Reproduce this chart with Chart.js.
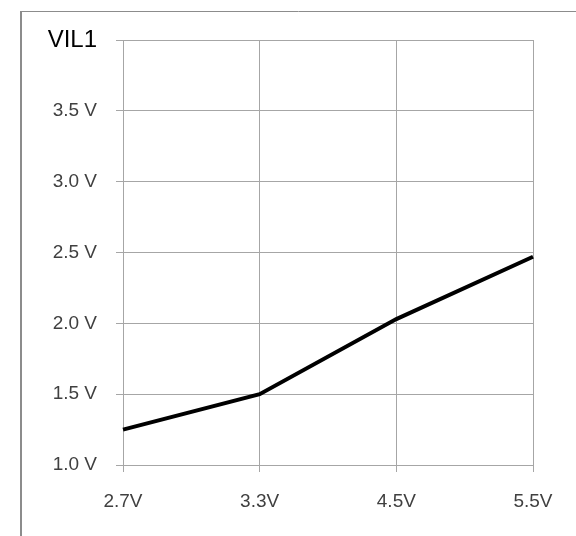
<!DOCTYPE html>
<html>
<head>
<meta charset="utf-8">
<script src="https://cdn.jsdelivr.net/npm/chart.js@4/dist/chart.umd.min.js"></script>
<style>
    html, body { margin: 0; padding: 0; background: #fff; }
    #wrap { width: 576px; height: 536px; position: relative; }
</style>
</head>
<body>
<div id="wrap"><canvas id="vilChart" width="576" height="536"></canvas></div>
<script>
    const supplyLabels = ['2.7V', '3.3V', '4.5V', '5.5V'];
    const vilValues = [1.25, 1.5, 2.03, 2.47];
    const axisTitle = 'VIL1';
    const yMin = 1.0;
    const yMax = 4.0;
    const yStep = 0.5;

    const GRID_COLOR = '#a6a6a6';
    const FONT_FAMILY = '"Liberation Sans", Arial, sans-serif';

    // light frame around the whole picture (left and top edges only)
    const outerFrame = {
        id: 'outerFrame',
        beforeDraw(chart) {
            const ctx = chart.ctx;
            ctx.save();
            ctx.strokeStyle = '#8c8c8c';
            ctx.lineWidth = 2;
            ctx.beginPath();
            ctx.moveTo(21, 536);
            ctx.lineTo(21, 11);
            ctx.stroke();
            ctx.lineWidth = 1;
            ctx.beginPath();
            ctx.moveTo(21, 11.5);
            ctx.lineTo(576, 11.5);
            ctx.stroke();
            ctx.restore();
        }
    };

    new Chart(document.getElementById('vilChart'), {
        type: 'line',
        data: {
            labels: supplyLabels,
            datasets: [
                {
                    label: axisTitle,
                    data: vilValues,
                    borderColor: '#000',
                    borderWidth: 4,
                    pointRadius: 0,
                    tension: 0,
                    fill: false
                }
            ]
        },
        options: {
            responsive: false,
            animation: false,
            layout: {
                padding: { left: 0, right: 43, top: 40, bottom: 0 }
            },
            scales: {
                x: {
                    offset: false,
                    border: { color: GRID_COLOR, width: 1 },
                    grid: {
                        color: GRID_COLOR,
                        tickLength: 7,
                        offset: false
                    },
                    ticks: {
                        color: '#404040',
                        padding: 18,
                        maxRotation: 0,
                        font: { family: FONT_FAMILY, size: 19 }
                    },
                    afterFit(scale) {
                        scale.height = 71;
                    }
                },
                y: {
                    min: yMin,
                    max: yMax,
                    border: { color: GRID_COLOR, width: 1 },
                    grid: {
                        color: GRID_COLOR,
                        tickLength: 7
                    },
                    ticks: {
                        stepSize: yStep,
                        padding: 19,
                        color: ctx => (ctx.tick && ctx.tick.value === yMax ? '#000' : '#404040'),
                        font: ctx => (ctx.tick && ctx.tick.value === yMax
                            ? { family: FONT_FAMILY, size: 24 }
                            : { family: FONT_FAMILY, size: 19 }),
                        callback: value => (value === yMax ? axisTitle : value.toFixed(1) + ' V')
                    },
                    afterFit(scale) {
                        scale.width = 123;
                    }
                }
            },
            plugins: {
                legend: { display: false },
                tooltip: { enabled: false }
            }
        },
        plugins: [outerFrame]
    });
</script>
</body>
</html>
